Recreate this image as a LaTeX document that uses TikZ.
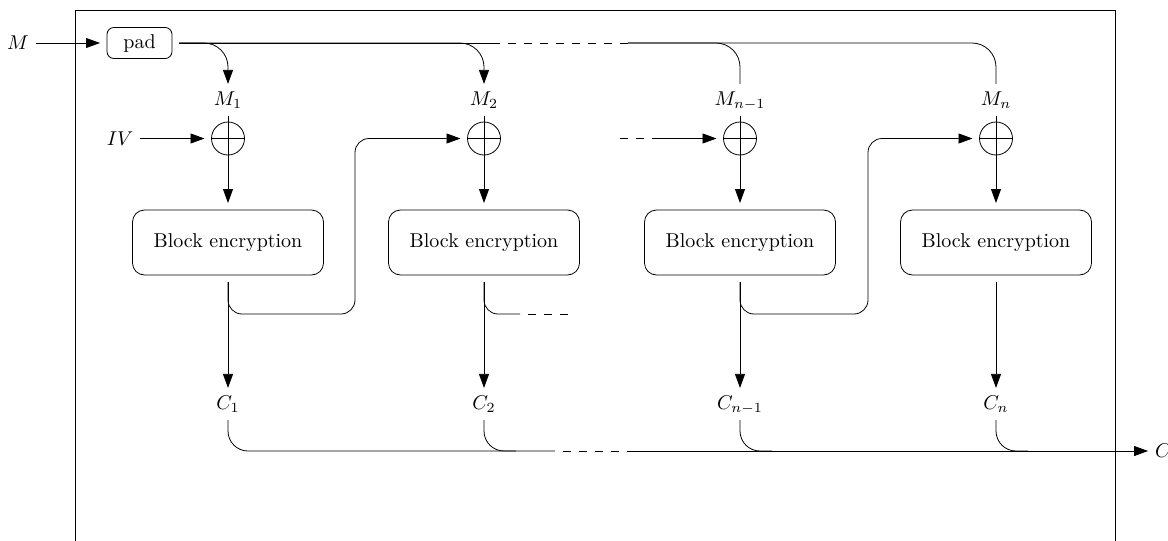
\documentclass[tikz,border=0pt]{standalone}
\usetikzlibrary{arrows.meta}
\begin{document}
\begin{tikzpicture}[x=0.5pt,y=-0.5pt,
  arr/.style={-{Triangle[length=7pt,width=5pt]}},
  lbl/.style={inner sep=3.33pt, text height=7pt, text depth=2pt},
  padbox/.style={draw, rounded corners=3.5pt, minimum width=32.5pt, minimum height=15.5pt, outer sep=3.5pt},
  encbox/.style={draw, rounded corners=6pt, minimum width=95.5pt, minimum height=32.5pt, outer sep=3.5pt},
  xorop/.style={draw, circle, minimum size=16.5pt, inner sep=0pt, outer sep=3.5pt,
    path picture={\draw (path picture bounding box.west) -- (path picture bounding box.east)
                        (path picture bounding box.north) -- (path picture bounding box.south);}},
  topbus/.style={rounded corners=12pt},
  bus/.style={rounded corners=10pt},
  fb/.style={rounded corners=7pt},
  gapdash/.style={dash pattern=on 4pt off 4pt, dash phase=4pt},
  plaindash/.style={dash pattern=on 4pt off 4pt}
]
\useasboundingbox (0,0) rectangle (1168,541);

% outer frame
\draw (75,10) rectangle (1115,600);

% inputs
\node (M) at (18,43) {$M$};
\node[padbox] (pad) at (139.5,43) {pad};
\node (IV) at (120,138.5) {$IV$};

% message blocks
\node[lbl] (M1) at (228,100) {$M_1$};
\node[lbl] (M2) at (484,100) {$M_2$};
\node[lbl] (Mn1) at (740,100) {$M_{n-1}$};
\node[lbl] (Mn) at (996,100) {$M_n$};

% xor gates
\node[xorop] (x1) at (228,138.5) {};
\node[xorop] (x2) at (484,138.5) {};
\node[xorop] (x3) at (740,138.5) {};
\node[xorop] (x4) at (996,138.5) {};

% cipher blocks
\node[encbox] (B1) at (228,242.5) {Block encryption};
\node[encbox] (B2) at (484,242.5) {Block encryption};
\node[encbox] (B3) at (740,242.5) {Block encryption};
\node[encbox] (B4) at (996,242.5) {Block encryption};

% ciphertext blocks
\node[lbl] (C1) at (228,404) {$C_1$};
\node[lbl] (C2) at (484,404) {$C_2$};
\node[lbl] (Cn1) at (740,404) {$C_{n-1}$};
\node[lbl] (Cn) at (996,404) {$C_n$};
\node (Cout) at (1163,451) {$C$};

% helper points
\coordinate (t1) at (500,43);
\coordinate (t2) at (628,43);
\coordinate (f1) at (355,314);
\coordinate (f3) at (868,314);
\coordinate (g1) at (520,314);
\coordinate (g2) at (568,314);
\coordinate (h1) at (620,138.5);
\coordinate (h2) at (652,138.5);
\coordinate (b1) at (555,451);
\coordinate (b2) at (627,451);
\coordinate (e2) at (516,451);
\coordinate (e3) at (772,451);
\coordinate (e4) at (1028,451);

% padding and splitting into blocks
\draw[arr] (M) -- (pad);
\draw[arr,topbus] (pad.east) -| (M1.north);
\draw[arr,topbus] (pad.east) -| (M2.north);
\draw (pad.east) -- (t1);
\draw[gapdash] (t1) -- (t2);
\draw[topbus] (t2) -| (Mn1.north);
\draw[topbus] (t2) -| (Mn.north);

% message through xor into the cipher
\draw[arr] (M1.south) -- (B1.north);
\draw[arr] (M2.south) -- (B2.north);
\draw[arr] (Mn1.south) -- (B3.north);
\draw[arr] (Mn.south) -- (B4.north);

% chaining values
\draw[arr] (IV) -- (x1);
\draw[arr,fb] (B1.south) |- (f1) |- (x2.west);
\draw[fb] (B2.south) |- (g1);
\draw[gapdash] (g1) -- (g2);
\draw[plaindash] (h1) -- (h2);
\draw[arr] (h2) -- (x3);
\draw[arr,fb] (B3.south) |- (f3) |- (x4.west);

% cipher outputs
\draw[arr] (B1.south) -- (C1.north);
\draw[arr] (B2.south) -- (C2.north);
\draw[arr] (B3.south) -- (Cn1.north);
\draw[arr] (B4.south) -- (Cn.north);

% concatenation of ciphertext blocks
\draw[bus] (C1.south) |- (b1);
\draw[gapdash] (b1) -- (b2);
\draw[arr] (b2) -- (Cout);
\draw[bus] (C2.south) |- (e2);
\draw[bus] (Cn1.south) |- (e3);
\draw[bus] (Cn.south) |- (e4);
\end{tikzpicture}
\end{document}
